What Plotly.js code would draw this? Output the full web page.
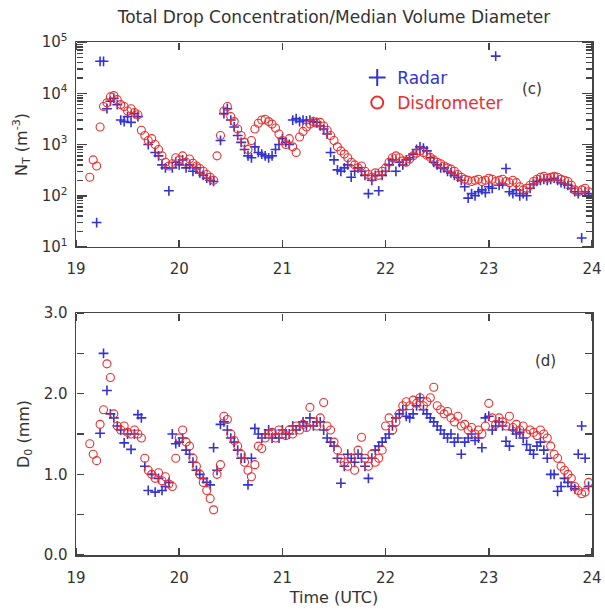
<!DOCTYPE html>
<html>
<head>
<meta charset="utf-8">
<script src="https://cdn.plot.ly/plotly-3.0.1.min.js"></script>
<style>html,body{margin:0;padding:0;background:#fff;}#chart{width:605px;height:612px;}</style>
</head>
<body>
<div id="chart"></div>
<script>
// minutes after 19:00 UTC
const minutes = [8,10,12,14,16,18,20,22,24,26,28,30,32,34,36,38,40,42,44,46,48,50,52,54,56,58,
60,62,64,66,68,70,72,74,76,78,80,82,84,86,88,90,92,94,96,98,100,102,104,106,108,110,112,114,116,118,
120,122,124,126,128,130,132,134,136,138,140,142,144,146,148,150,152,154,156,158,160,162,164,166,168,170,172,174,176,178,
180,182,184,186,188,190,192,194,196,198,200,202,204,206,208,210,212,214,216,218,220,222,224,226,228,230,232,234,236,238,
240,242,244,246,248,250,252,254,256,258,260,262,264,266,268,270,272,274,276,278,280,282,284,286,288,290,292,294,296,298];

// Total drop concentration N_T (m^-3)
const ntDisdrometer = [230,500,380,2200,5500,6500,8500,9000,7500,6000,5500,4500,5000,4200,3800,1900,1500,1200,1300,1000,800,600,450,380,420,550,
500,600,450,520,430,380,340,300,260,230,200,600,1500,4500,5500,3500,2800,2000,1500,1100,800,1200,2000,2600,3000,3100,2800,2500,2100,1600,
1200,1000,1300,900,700,1400,1800,2200,2500,2800,2600,2700,2300,1900,1500,1200,900,750,650,550,450,400,350,380,300,260,230,280,250,300,
350,450,550,600,550,480,450,520,600,680,750,700,620,560,500,450,420,380,350,330,300,260,230,210,200,190,200,210,190,200,
220,210,190,200,210,190,180,200,180,150,130,140,160,190,210,230,240,220,230,240,230,210,200,190,160,130,120,130,140,120];
const ntRadar = [null,null,30,42000,42000,5000,7000,8000,6000,3000,2800,3500,2700,4000,3500,null,null,1000,null,700,600,400,350,125,350,450,
400,500,350,400,300,350,280,250,220,200,190,null,1200,4000,5000,3000,2200,1500,1100,800,600,550,900,700,650,600,550,600,800,1000,
1300,1100,1000,3000,3200,2800,3000,2900,3000,2800,2700,2300,2000,1600,700,500,320,300,350,400,230,300,350,300,250,110,200,250,125,250,
300,400,500,300,450,400,500,550,650,800,900,850,750,550,450,400,350,350,300,280,250,230,200,150,90,110,100,120,130,115,
150,140,53000,160,170,340,120,110,130,100,110,100,140,170,190,200,210,200,210,220,200,180,170,160,140,120,110,15,120,110];

// Median volume diameter D0 (mm)
const d0Disdrometer = [1.38,1.25,1.17,1.62,1.80,2.37,2.20,1.75,1.60,1.55,1.60,1.52,1.50,1.55,1.50,1.45,1.20,1.05,1.00,0.95,1.02,0.92,0.97,0.88,0.85,1.20,
1.45,1.55,1.40,1.35,1.20,1.10,1.00,0.90,0.80,0.70,0.56,1.00,1.12,1.72,1.68,1.50,1.42,1.35,1.25,1.15,1.05,0.97,1.12,1.35,1.32,1.45,1.50,1.52,1.45,1.55,
1.50,1.48,1.55,1.50,1.60,1.55,1.62,1.58,1.83,1.65,1.60,1.70,1.89,1.60,1.55,1.40,1.30,1.20,1.15,1.10,1.20,1.05,1.30,1.46,1.20,1.10,1.25,1.15,1.20,1.30,
1.60,1.70,1.55,1.65,1.75,1.85,1.90,1.85,1.92,1.88,1.95,1.85,1.90,1.95,2.08,1.85,1.80,1.75,1.78,1.70,1.65,1.72,1.60,1.62,1.55,1.58,1.50,1.55,1.50,1.60,
1.88,1.70,1.62,1.70,1.65,1.60,1.72,1.58,1.62,1.55,1.60,1.50,1.55,1.52,1.48,1.55,1.50,1.45,1.35,1.25,1.20,1.10,1.05,1.00,0.95,0.85,0.80,0.76,0.78,0.90];
const d0Radar = [null,null,null,1.51,2.50,2.04,1.75,1.70,1.60,1.55,1.39,1.50,1.31,1.50,1.74,1.70,1.10,0.80,1.00,0.78,0.95,0.80,0.85,0.90,1.50,1.38,
1.40,1.45,1.30,1.25,1.15,1.05,1.00,0.95,0.90,0.87,1.33,1.05,1.62,1.65,1.55,1.45,1.40,1.30,1.20,1.20,0.87,1.20,1.57,1.50,1.45,1.50,1.55,1.45,1.50,1.45,
1.55,1.50,1.50,1.60,1.55,1.60,1.65,1.60,1.70,1.60,1.65,1.65,1.55,1.45,1.40,1.35,1.20,0.89,1.10,1.25,1.20,1.15,1.25,1.20,1.10,0.95,1.20,1.30,1.35,1.40,
1.45,1.50,1.60,1.70,1.75,1.80,1.72,1.70,1.75,1.85,1.95,1.80,1.75,1.70,1.65,1.60,1.55,1.50,1.45,1.50,1.40,1.45,1.25,1.40,1.45,1.50,1.42,1.45,1.33,1.70,
1.72,1.55,1.60,1.65,1.60,1.41,1.35,1.55,1.50,1.52,1.45,1.37,1.30,1.25,1.35,1.40,1.30,1.20,1.00,1.00,0.79,0.85,0.95,0.90,0.85,0.82,1.25,1.60,1.20,0.85];

const xTickVals = [19,20,21,22,23,24];
const xTickText = ['19','20','21','22','23','24'];
const logTickVals = [10,100,1000,10000,100000];
const logTickText = ['10<sup>1</sup>','10<sup>2</sup>','10<sup>3</sup>','10<sup>4</sup>','10<sup>5</sup>'];
const logMinorVals = [20,30,40,50,60,70,80,90,200,300,400,500,600,700,800,900,
  2000,3000,4000,5000,6000,7000,8000,9000,20000,30000,40000,50000,60000,70000,80000,90000];
const dTickVals = [0,1,2,3];
const dTickText = ['0.0','1.0','2.0','3.0'];
const dAllTickVals = [0,0.5,1,1.5,2,2.5,3];

const hours = minutes.map(m => 19 + m / 60);

const blue = 'rgb(50,50,215)';
const red = 'rgb(235,45,45)';
const font = 'DejaVu Sans, sans-serif';
const axisColor = '#444';
const textColor = '#333';

const radarMarker = {symbol: 'cross-thin-open', size: 7, color: blue, line: {color: blue, width: 1.6}};
const disMarker = {symbol: 'circle-open', size: 8, color: red, line: {color: red, width: 1.1}};

const traces = [
  {x: hours, y: ntRadar, type: 'scatter', mode: 'markers', name: '<span style="color:' + blue + '">Radar</span>',
   marker: radarMarker, xaxis: 'x', yaxis: 'y', showlegend: true},
  {x: hours, y: ntDisdrometer, type: 'scatter', mode: 'markers', name: '<span style="color:' + red + '">Disdrometer</span>',
   marker: disMarker, xaxis: 'x', yaxis: 'y', showlegend: true},
  {x: hours, y: d0Radar, type: 'scatter', mode: 'markers', name: 'Radar',
   marker: radarMarker, xaxis: 'x2', yaxis: 'y2', showlegend: false},
  {x: hours, y: d0Disdrometer, type: 'scatter', mode: 'markers', name: 'Disdrometer',
   marker: disMarker, xaxis: 'x2', yaxis: 'y2', showlegend: false}
];
// empty helper traces so that the inward-tick overlay axes are drawn
[['x3','y'],['x4','y'],['x','y3'],['x','y5'],['x5','y2'],['x6','y2'],['x2','y4'],['x2','y6']].forEach(p => {
  traces.push({x: [], y: [], type: 'scatter', mode: 'markers', xaxis: p[0], yaxis: p[1], showlegend: false, hoverinfo: 'skip'});
});

const mainAxis = {
  ticks: '', showline: true, linecolor: axisColor, linewidth: 1.5, mirror: true,
  showgrid: false, zeroline: false, tickfont: {family: font, size: 15, color: textColor}
};
const tickAxis = {
  anchor: 'free', ticks: 'outside', tickwidth: 1.5, tickcolor: axisColor,
  showticklabels: false, showline: false, showgrid: false, zeroline: false
};

function xTicker(over, pos, side) {
  return Object.assign({}, tickAxis, {overlaying: over, position: pos, side: side,
    range: [19, 24], tickmode: 'array', tickvals: xTickVals, ticklen: 7});
}
function logTicker(pos, side) {
  return Object.assign({}, tickAxis, {overlaying: 'y', position: pos, side: side,
    type: 'log', range: [1, 5], tickmode: 'array', tickvals: logTickVals, ticklen: 10,
    minor: {ticks: 'outside', ticklen: 6, tickwidth: 1.5, tickcolor: axisColor, tickvals: logMinorVals}});
}
function dTicker(pos, side) {
  return Object.assign({}, tickAxis, {overlaying: 'y2', position: pos, side: side,
    range: [0, 3], tickmode: 'array', tickvals: dAllTickVals, ticklen: 7});
}

const layout = {
  width: 605, height: 612,
  margin: {l: 76, r: 13, t: 42, b: 57},
  paper_bgcolor: '#fff', plot_bgcolor: '#fff',
  font: {family: font, color: textColor},
  showlegend: true,
  legend: {x: 0.545, y: 0.965, xanchor: 'left', yanchor: 'top', bgcolor: 'rgba(0,0,0,0)',
           font: {family: font, size: 17}, itemsizing: 'constant', tracegroupgap: 0},
  title: {text: 'Total Drop Concentration/Median Volume Diameter', x: 0.5, xref: 'paper',
          y: 0.972, yref: 'container', yanchor: 'middle',
          font: {family: font, size: 17, color: textColor}},
  xaxis: Object.assign({}, mainAxis, {range: [19, 24], domain: [0, 1], anchor: 'y',
    tickmode: 'array', tickvals: xTickVals, ticktext: xTickText, ticklabelstandoff: 8}),
  yaxis: Object.assign({}, mainAxis, {type: 'log', range: [1, 5], domain: [0.6004, 1], anchor: 'x',
    tickmode: 'array', tickvals: logTickVals, ticktext: logTickText, ticklabelstandoff: 4,
    title: {text: 'N<sub>T</sub> (m<sup>-3</sup>)', font: {family: font, size: 16, color: textColor}, standoff: 10}}),
  xaxis2: Object.assign({}, mainAxis, {range: [19, 24], domain: [0, 1], anchor: 'y2',
    tickmode: 'array', tickvals: xTickVals, ticktext: xTickText, ticklabelstandoff: 8,
    title: {text: 'Time (UTC)', font: {family: font, size: 16, color: textColor}, standoff: 6}}),
  yaxis2: Object.assign({}, mainAxis, {range: [0, 3], domain: [0, 0.4717], anchor: 'x2',
    tickmode: 'array', tickvals: dTickVals, ticktext: dTickText, ticklabelstandoff: 4,
    title: {text: 'D<sub>0</sub> (mm)', font: {family: font, size: 16, color: textColor}, standoff: 10}}),
  // inward-pointing ticks: outside ticks drawn on the opposite side of each plot edge
  xaxis3: xTicker('x', 0.6004, 'top'),
  xaxis4: xTicker('x', 1, 'bottom'),
  yaxis3: logTicker(0, 'right'),
  yaxis5: logTicker(1, 'left'),
  xaxis5: xTicker('x2', 0, 'top'),
  xaxis6: xTicker('x2', 0.4717, 'bottom'),
  yaxis4: dTicker(0, 'right'),
  yaxis6: dTicker(1, 'left'),
  annotations: [
    {text: '(c)', xref: 'x', yref: 'paper', x: 23.42, y: 0.93, showarrow: false,
     font: {family: font, size: 15, color: textColor}},
    {text: '(d)', xref: 'x2', yref: 'y2', x: 23.55, y: 2.4, showarrow: false,
     font: {family: font, size: 15, color: textColor}}
  ]
};

Plotly.newPlot('chart', traces, layout, {displayModeBar: false, staticPlot: true});
</script>
</body>
</html>
